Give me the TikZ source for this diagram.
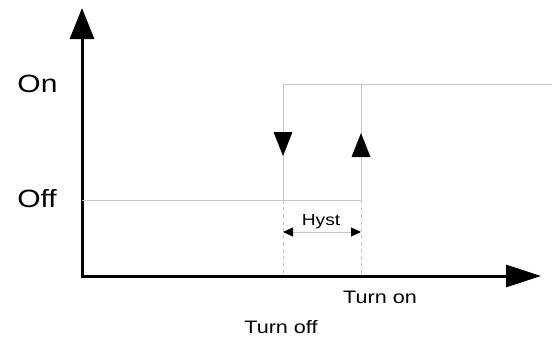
\documentclass[tikz,border=0pt]{standalone}
\usepackage{fontspec}
\newfontfamily\labelfont[FakeStretch=1.2]{Liberation Sans}
\usetikzlibrary{arrows.meta}
\definecolor{wiregray}{RGB}{200,200,200}

\begin{document}
\begin{tikzpicture}[x=1pt,y=-1pt,
  axis/.style={line width=3pt,{Triangle[length=31pt,width=24pt]}-{Triangle[length=35pt,width=22pt]}},
  wire/.style={draw=wiregray,line width=1pt},
  dashwire/.style={wire,dash pattern=on 4pt off 3pt},
  hystarrow/.style={wire,{Triangle[length=10pt,width=9pt,color=black]}-{Triangle[length=10pt,width=9pt,color=black]}},
  level/.style={font=\labelfont\fontsize{25}{30}\selectfont,anchor=base},
  tick/.style={font=\labelfont\fontsize{18}{22}\selectfont,anchor=base},
  hystlabel/.style={font=\labelfont\fontsize{16}{19}\selectfont,anchor=base}]
\useasboundingbox (0,0) rectangle (552,340);

% axes
\coordinate (ytop) at (82,8);
\coordinate (xend) at (541,276);
\draw[axis] (ytop) |- (xend);

% switching levels
\coordinate (offstart) at (82,200);
\coordinate (offend) at (361,200);
\coordinate (ondown) at (283,200);
\coordinate (oncorner) at (283,84);
\coordinate (onup) at (361,84);
\coordinate (onend) at (552,84);
\coordinate (downbase) at (283,276);
\coordinate (upbase) at (361,276);

\draw[wire] (offstart) -- (offend) -- (onup);
\draw[wire] (ondown) -- (oncorner) -- (onend);
\draw[dashwire] (ondown) -- (downbase);
\draw[dashwire] (offend) -- (upbase);

% direction marks
\fill (273.5,132) -- (292.5,132) -- (283,156) -- cycle;
\fill (351.5,157) -- (370.5,157) -- (361,133) -- cycle;

% hysteresis
\coordinate (hystleft) at (283,232);
\coordinate (hystright) at (361,232);
\draw[hystarrow] (hystleft) -- (hystright);
\node[hystlabel] (hyst) at (321,225) {Hyst};

% labels
\node[level] (on) at (37.5,92) {On};
\node[level] (off) at (37,207) {Off};
\node[tick] (turnon) at (380,303) {Turn on};
\node[tick] (turnoff) at (281,333) {Turn off};
\end{tikzpicture}
\end{document}
